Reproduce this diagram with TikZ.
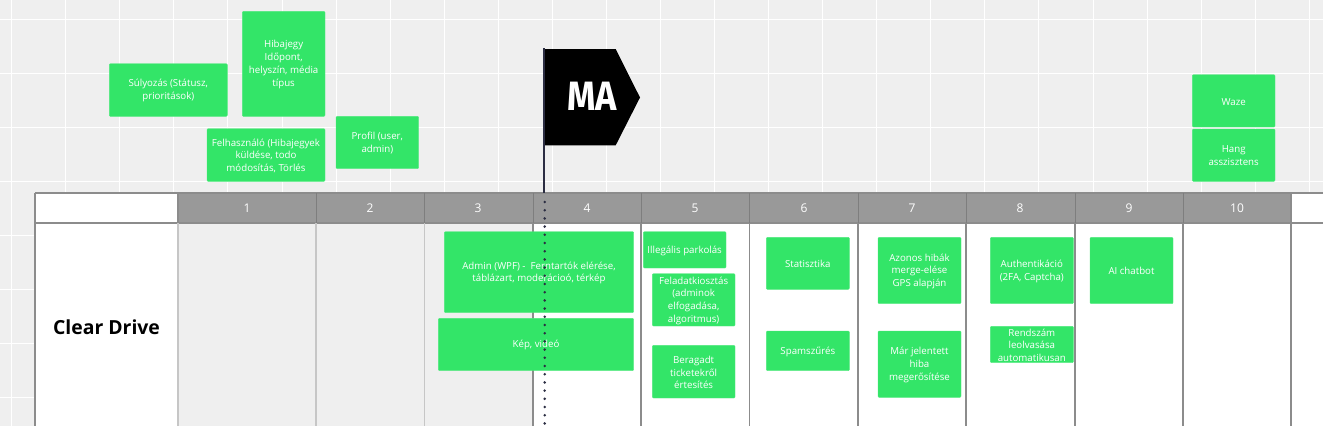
\documentclass[tikz,border=0pt]{standalone}
\usepackage{fontspec}
\setmainfont{Open Sans}
\newfontfamily\flagfont{Fira Sans}
\definecolor{bgc}{HTML}{EFEFEF}
\definecolor{gridc}{HTML}{FFFFFF}
\definecolor{greenc}{HTML}{33E568}
\definecolor{headc}{HTML}{999999}
\definecolor{linec}{HTML}{8C8C8C}
\definecolor{lightlinec}{HTML}{C6C6C6}
\definecolor{polec}{HTML}{2B2D42}
\tikzset{
  gbox/.style={fill=greenc,draw=greenc!85!white,line width=0.4pt,rounded corners=1pt,inner sep=0pt},
  gtext/.style={text=white,align=center,font=\fontsize{9.7}{12.8}\selectfont,inner sep=0pt},
  headtext/.style={text=white,font=\fontsize{12}{14}\selectfont,inner sep=0pt},
  gridline/.style={draw=gridc,line width=1pt},
  tableline/.style={draw=linec,line width=1.2pt},
  softline/.style={draw=lightlinec,line width=1.2pt}
}
\newcommand{\gcard}[6]{%
  \pgfmathsetmacro{\cw}{#4-#2}\pgfmathsetmacro{\ch}{#5-#3}%
  \pgfmathsetmacro{\cx}{(#4+#2)/2}\pgfmathsetmacro{\cy}{(#5+#3)/2}%
  \node[gbox,minimum width=\cw pt,minimum height=\ch pt] (#1) at (\cx,\cy) {};
  \node[gtext] (#1-t) at (\cx,\cy+0.8) {#6};
}
\begin{document}
\begin{tikzpicture}[x=1pt,y=-1pt]
\useasboundingbox (0,0) rectangle (1323,426);
\clip (0,0) rectangle (1323,426);
\fill[bgc] (0,0) rectangle (1323,426);
% background grid
\foreach \gx in {65,119,173,227,282,336,390,444,498,552,606,660,714,768,822,876,930,984,1038,1093,1147,1201,1255,1309}
  \draw[gridline] (\gx,0) -- (\gx,192);
\draw[gridline] (11,0) -- (11,426);
\foreach \gy in {19,73,127,181}
  \draw[gridline] (0,\gy) -- (1323,\gy);
\foreach \gy in {235,289,343,397}
  \draw[gridline] (0,\gy) -- (35,\gy);
% table
\fill[white] (35,193) rectangle (1323,426);
\fill[bgc] (178,223) rectangle (533,426);
\fill[headc] (178,193) rectangle (1291,223);
\draw[tableline] (35,193) -- (1323,193);
\draw[tableline] (35,223) -- (1323,223);
\draw[tableline] (35,193) -- (35,426);
\draw[tableline] (178,193) -- (178,223);
\draw[softline] (178,223) -- (178,426);
\draw[softline] (316,223) -- (316,426);
\draw[softline] (424.5,223) -- (424.5,426);
\foreach \lx in {533,641,749.5,858,966,1075,1183,1291}
  \draw[tableline] (\lx,223) -- (\lx,426);
\foreach \lx in {316,424.5,533,641,749.5,858,966,1075,1183}
  \draw[draw=linec!90!black,line width=0.8pt] (\lx,193) -- (\lx,223);
\draw[tableline] (1291,193) -- (1291,223);
\node[headtext] (h1) at (247,208) {1};
\node[headtext] (h2) at (370,208) {2};
\node[headtext] (h3) at (478,208) {3};
\node[headtext] (h4) at (587,208) {4};
\node[headtext] (h5) at (695,208) {5};
\node[headtext] (h6) at (804,208) {6};
\node[headtext] (h7) at (912,208) {7};
\node[headtext] (h8) at (1020,208) {8};
\node[headtext] (h9) at (1129,208) {9};
\node[headtext] (h10) at (1237,208) {10};
\node[font=\fontsize{19.4}{23}\selectfont\bfseries,text=black,inner sep=0pt] (title) at (106.5,327) {Clear Drive};
% cards
\gcard{a}{109.3}{63.7}{227.3}{116.3}{Súlyozás (Státusz,\\prioritások)}
\gcard{b}{242.3}{11.3}{325}{116.3}{Hibajegy\\Időpont,\\helyszín, média\\típus}
\gcard{c}{207}{128.7}{325}{181.3}{Felhasználó (Hibajegyek\\küldése, todo\\módosítás, Törlés}
\gcard{d}{336}{116.3}{418.7}{168.7}{Profil (user,\\admin)}
\gcard{e}{444.3}{231.7}{633.7}{312.7}{Admin (WPF) -\ \ Ferntartók elérése,\\táblázart, moderácioó, térkép}
\gcard{f}{438.3}{318.3}{633.7}{370.7}{Kép, videó}
\gcard{g}{643.3}{231.7}{726}{268}{Illegális parkolás}
\gcard{h}{652.3}{273.7}{735}{326}{Feladatkiosztás\\(adminok\\elfogadása,\\algoritmus)}
\gcard{i}{652.3}{345.3}{735}{398}{Beragadt\\ticketekről\\értesítés}
\gcard{j}{766.3}{237.3}{849.3}{289.3}{Statisztika}
\gcard{k}{766.3}{331}{849.3}{370.7}{Spamszűrés}
\gcard{l}{878}{237.3}{961}{303.7}{Azonos hibák\\merge-elése\\GPS alapján}
\gcard{m}{878}{331}{961}{397.3}{Már jelentett\\hiba\\megerősítése}
\gcard{n}{990.3}{237.3}{1073.3}{303.7}{Authentikáció\\(2FA, Captcha)}
\gcard{o}{990.3}{326.3}{1073.3}{362.7}{Rendszám\\leolvasása\\automatikusan}
\gcard{p}{1090}{237.3}{1173}{303.7}{AI chatbot}
\gcard{q}{1192.3}{74.7}{1275}{127}{Waze}
\gcard{r}{1192.3}{129}{1275}{181.3}{Hang\\asszisztens}
% flag
\fill[black] (544,49) -- (615.7,49) -- (640,97.5) -- (615.7,145.3) -- (544,145.3) -- cycle;
\node[text=white,inner sep=0pt,font=\flagfont\fontsize{41}{41}\selectfont\bfseries,xscale=0.88] (ma) at (592,96) {MA};
\coordinate (poletop) at (544,48);
\coordinate (polefoot) at (544,193);
\draw[polec,line width=2.2pt] (poletop) -- (polefoot);
\foreach \dy in {0,...,28}
  \fill[polec] (544.7,202+8.2*\dy) circle (1.4);
\end{tikzpicture}
\end{document}
